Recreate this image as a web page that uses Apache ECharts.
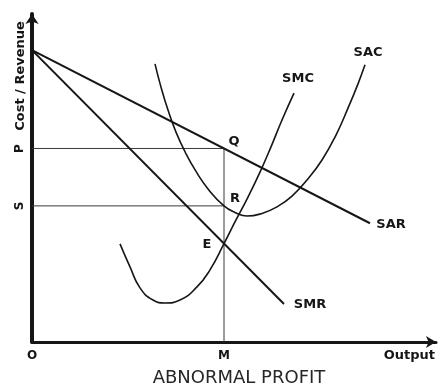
<!DOCTYPE html>
<html>
<head>
<meta charset="utf-8">
<script src="https://cdn.jsdelivr.net/npm/echarts@6/dist/echarts.min.js"></script>
<style>
  html, body { margin: 0; padding: 0; background: #fff; }
  #chart { width: 442px; height: 392px; }
</style>
</head>
<body>
<div id="chart"></div>
<script>
// Short-run equilibrium of a firm earning abnormal profit (output / cost units)
const qtyM = 48;      // equilibrium output M
const priceP = 59;    // price P = average revenue at M
const costS = 41.5;   // average cost S at M
const mcAtE = 30;     // MR = MC at point E

// Average revenue (demand) and marginal revenue lines
const sarLine = [[0, 89], [84.5, 36.2]];
const smrLine = [[0, 89], [63, 11.6]];

// Short-run marginal cost curve
const smcCurve = [
  [22, 29.9], [24.5, 22.9], [27, 16.5], [30.25, 12.8], [33.25, 11.9],
  [37, 12.8], [41.25, 16.8], [44.5, 22], [48, 30], [51, 37.2],
  [54, 44.2], [57, 51.8], [59.75, 59.5], [62.5, 67.7], [65.5, 75.9]
];

// Short-run average cost curve
const sacCurve = [
  [30.75, 84.8], [32.25, 77.7], [34, 70.7], [36, 64], [38.25, 58],
  [41, 52], [44.25, 46.3], [48, 41.5], [50.75, 39.5], [53.75, 38.4],
  [57.5, 39.2], [61.25, 41.2], [65, 44.5], [68.75, 49.4], [72.5, 55.5],
  [76, 63.1], [79, 71.3], [81.5, 78.7], [83.25, 84.5]
];

const xTickLabels = { 0: 'O', [qtyM]: 'M' };
const yTickLabels = { [priceP]: 'P', [costS]: 'S' };

const INK = '#161616';
const LABEL_FONT = 'DejaVu Sans';

const last = arr => arr[arr.length - 1];

const curveSeries = (data, width, smooth) => ({
  type: 'line',
  data: data,
  smooth: smooth,
  symbol: 'none',
  silent: true,
  lineStyle: { color: INK, width: width },
  z: 3
});

const guideSeries = (data) => ({
  type: 'line',
  data: data,
  symbol: 'none',
  silent: true,
  lineStyle: { color: '#3a3a3a', width: 1 },
  z: 2
});

const pointLabel = (name, point, offset) => ({
  name: name,
  value: point,
  label: { offset: offset }
});

const chart = echarts.init(document.getElementById('chart'), null, { renderer: 'canvas' });

chart.setOption({
  animation: false,
  backgroundColor: '#ffffff',
  title: {
    text: 'ABNORMAL PROFIT',
    left: 234,
    top: 364,
    textAlign: 'center',
    textStyle: {
      fontFamily: LABEL_FONT,
      fontWeight: 'normal',
      fontSize: 18,
      color: '#262626'
    }
  },
  grid: { left: 32, right: 6, top: 14, bottom: 50, containLabel: false },
  xAxis: {
    type: 'value',
    min: 0,
    max: 101,
    splitLine: { show: false },
    axisTick: { show: false },
    axisLine: {
      show: true,
      onZero: false,
      symbol: ['none', 'arrow'],
      symbolSize: [9, 10],
      lineStyle: { color: INK, width: 3 }
    },
    axisLabel: {
      show: true,
      customValues: [0, qtyM],
      formatter: v => xTickLabels[v] || '',
      margin: 8,
      color: INK,
      fontFamily: LABEL_FONT,
      fontWeight: 'bold',
      fontSize: 12
    }
  },
  yAxis: {
    type: 'value',
    min: 0,
    max: 100,
    splitLine: { show: false },
    axisTick: { show: false },
    axisLine: {
      show: true,
      onZero: false,
      symbol: ['none', 'arrow'],
      symbolSize: [10, 10],
      lineStyle: { color: INK, width: 4 }
    },
    axisLabel: {
      show: true,
      customValues: [costS, priceP],
      formatter: v => yTickLabels[v] || '',
      rotate: 90,
      margin: 6,
      color: INK,
      fontFamily: LABEL_FONT,
      fontWeight: 'bold',
      fontSize: 12
    }
  },
  graphic: [
    {
      type: 'text',
      x: 21,
      y: 76,
      rotation: Math.PI / 2,
      style: {
        text: 'Cost / Revenue',
        fill: INK,
        font: 'bold 13px "DejaVu Sans"',
        align: 'center',
        verticalAlign: 'middle'
      }
    },
    {
      type: 'text',
      x: 435,
      y: 356,
      style: {
        text: 'Output',
        fill: INK,
        font: 'bold 13px "DejaVu Sans"',
        align: 'right',
        verticalAlign: 'middle'
      }
    }
  ],
  series: [
    // price and cost guide lines to the axes
    guideSeries([[0, priceP], [qtyM, priceP]]),
    guideSeries([[0, costS], [qtyM, costS]]),
    guideSeries([[qtyM, 0], [qtyM, priceP]]),
    // revenue lines
    curveSeries(sarLine, 2, false),
    curveSeries(smrLine, 2, false),
    // cost curves
    curveSeries(smcCurve, 1.6, 0.5),
    curveSeries(sacCurve, 1.6, 0.5),
    // curve names and point letters
    {
      type: 'scatter',
      symbolSize: 0,
      silent: true,
      z: 5,
      itemStyle: { opacity: 1 },
      label: {
        show: true,
        position: 'inside',
        formatter: p => p.name,
        color: INK,
        fontFamily: LABEL_FONT,
        fontWeight: 'bold',
        fontSize: 13
      },
      data: [
        pointLabel('SAC', last(sacCurve), [3, -12]),
        pointLabel('SMC', last(smcCurve), [4, -14]),
        pointLabel('SAR', last(sarLine), [21, 1]),
        pointLabel('SMR', last(smrLine), [26, 1]),
        pointLabel('Q', [qtyM, priceP], [10, -7]),
        pointLabel('R', [qtyM, costS], [11, -7]),
        pointLabel('E', [qtyM, mcAtE], [-17, 1])
      ]
    }
  ]
});
</script>
</body>
</html>
